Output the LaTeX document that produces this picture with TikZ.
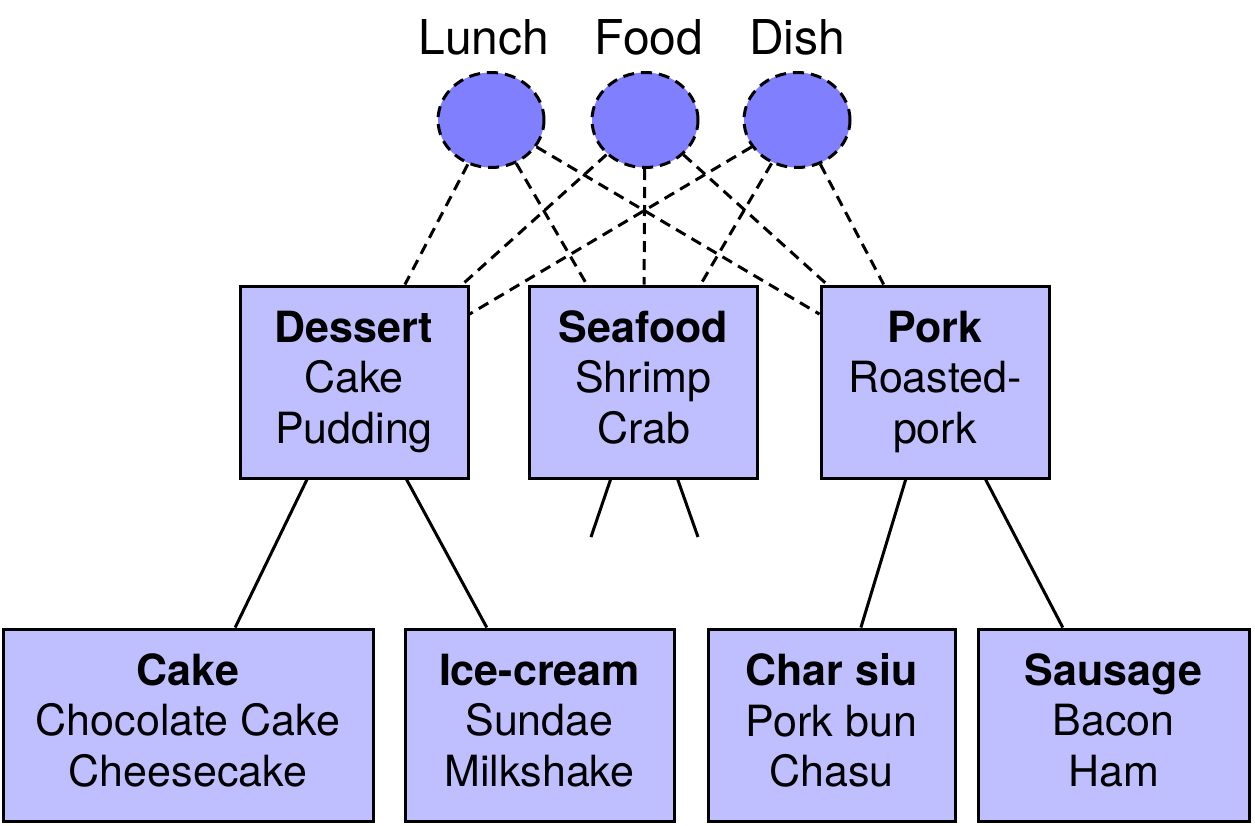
\documentclass[tikz,border=0pt]{standalone}
\usepackage{fontspec}
\setmainfont{TeX Gyre Heros}
\usetikzlibrary{shapes.geometric}
\definecolor{boxfill}{RGB}{191,191,255}
\definecolor{ellfill}{RGB}{128,128,255}
\newcommand{\topstrutx}{\rule{0pt}{41pt}}
\newcommand{\botstrutx}{\rule[-10pt]{0pt}{10pt}}
\begin{document}
\begin{tikzpicture}[x=1pt,y=-1pt,
  catbox/.style={draw=black,line width=3pt,fill=boxfill,rectangle,align=center,
    font=\fontsize{43}{50.5}\selectfont,inner sep=0pt,
    execute at begin node=\topstrutx, execute at end node=\botstrutx},
  topbox/.style={catbox,minimum width=228pt,minimum height=192pt},
  leafbox/.style={catbox,minimum height=192pt},
  concept/.style={ellipse,draw=black,line width=3pt,dash pattern=on 11pt off 7pt,
    fill=ellfill,minimum width=106pt,minimum height=95pt,inner sep=0pt},
  ctitle/.style={font=\fontsize{48}{50}\selectfont,anchor=base,inner sep=0pt},
  dline/.style={line width=3pt,dash pattern=on 11pt off 7pt},
  sline/.style={line width=3pt}]
\useasboundingbox (0,0) rectangle (1255,825);
% concepts
\node[concept] (lunch) at (491,120) {};
\node[concept] (food) at (645,120) {};
\node[concept] (dish) at (797,120) {};
\node[ctitle] (tl) at (484,54) {Lunch};
\node[ctitle] (tf) at (649,54) {Food};
\node[ctitle] (td) at (797,54) {Dish};
% level 1
\node[topbox] (dessert) at (354,382) {\textbf{Dessert}\\Cake\\Pudding};
\node[topbox] (seafood) at (643.5,382) {\textbf{Seafood}\\Shrimp\\Crab};
\node[topbox] (pork) at (935,382) {\textbf{Pork}\\Roasted-\\pork};
% level 2
\node[leafbox,minimum width=370pt] (cake) at (188,725) {\textbf{Cake}\\Chocolate Cake\\Cheesecake};
\node[leafbox,minimum width=269pt] (ice) at (539.5,725) {\textbf{Ice-cream}\\Sundae\\Milkshake};
\node[leafbox,minimum width=247pt] (charsiu) at (831.5,725) {\textbf{Char siu}\\Pork bun\\Chasu};
\node[leafbox,minimum width=271pt] (sausage) at (1113.5,725) {\textbf{Sausage}\\Bacon\\Ham};
\coordinate (sf1) at (591,537);
\coordinate (sf2) at (698,537);
% dashed links
\foreach \c in {lunch,food,dish}{
  \foreach \t in {dessert,seafood,pork}{
    \draw[dline] (\c) -- (\t);
  }
}
% solid links
\draw[sline] (dessert) -- (cake);
\draw[sline] (dessert) -- (ice);
\draw[sline] (seafood) -- (sf1);
\draw[sline] (seafood) -- (sf2);
\draw[sline] (pork) -- (charsiu);
\draw[sline] (pork) -- (sausage);
\end{tikzpicture}
\end{document}
